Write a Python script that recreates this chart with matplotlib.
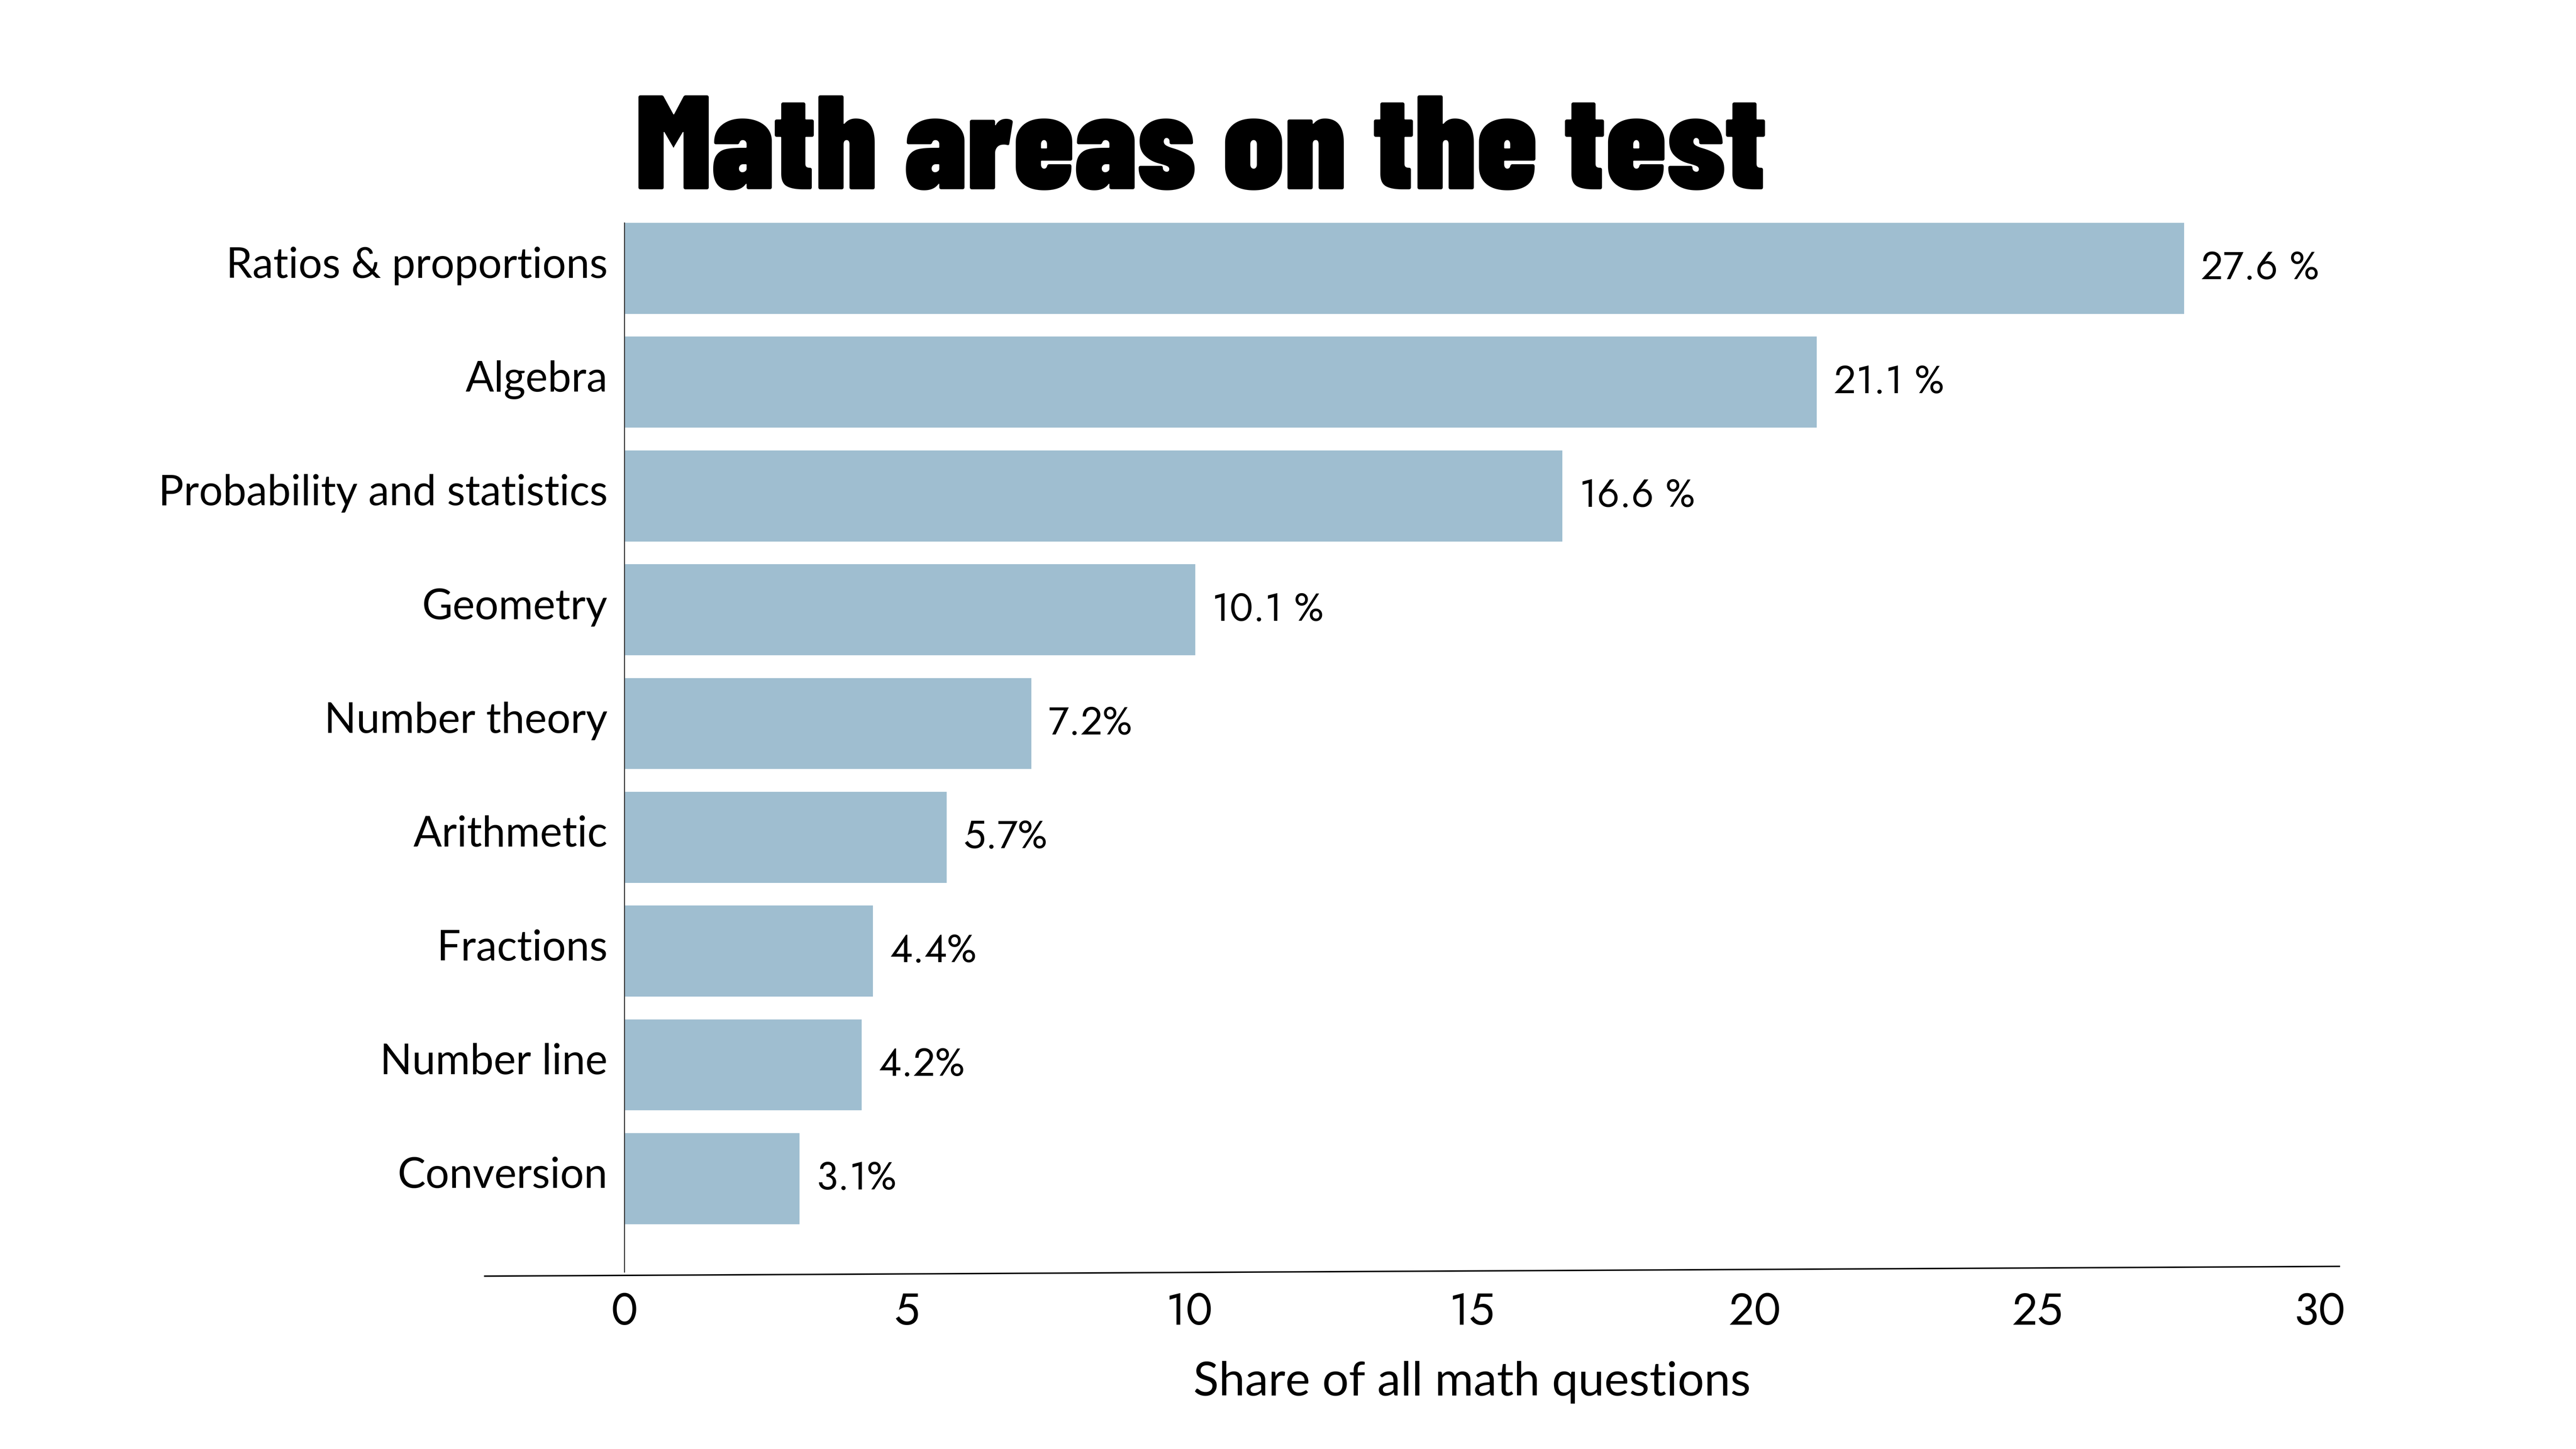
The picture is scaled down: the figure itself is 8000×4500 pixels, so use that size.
import matplotlib.pyplot as plt
from matplotlib.lines import Line2D
from matplotlib.transforms import ScaledTranslation

categories = ['Ratios & proportions', 'Algebra', 'Probability and statistics',
              'Geometry', 'Number theory', 'Arithmetic', 'Fractions',
              'Number line', 'Conversion']
shares = [27.6, 21.1, 16.6, 10.1, 7.2, 5.7, 4.4, 4.2, 3.1]
value_labels = ['27.6 %', '21.1 %', '16.6 %', '10.1 %', '7.2%', '5.7%',
                '4.4%', '4.2%', '3.1%']
xticks = [0, 5, 10, 15, 20, 25, 30]

bar_color = '#9fbed0'
label_font = ['Lato', 'DejaVu Sans']
number_font = ['Jost', 'Lato', 'DejaVu Sans']
title_font = ['Barlow Condensed', 'Roboto Condensed', 'Anton', 'DejaVu Sans']

fig = plt.figure(figsize=(16, 9), dpi=500)
ax = fig.add_axes([0.2424, 0.1222, 0.6581, 0.7240])

ypos = list(range(len(categories)))
ax.barh(ypos, shares, height=0.8, color=bar_color, zorder=2)

for y, v, txt in zip(ypos, shares, value_labels):
    ax.text(v + 0.3, y, txt, va='center', ha='left', fontsize=17.5,
            family=number_font, fontweight='light', color='black')

ax.set_xlim(0, 30)
ax.set_ylim(8.82, -0.4)
ax.set_yticks(ypos)
ax.set_yticklabels(categories, family=label_font, fontsize=18.8)
ax.set_xticks(xticks)
ax.set_xticklabels([str(t) for t in xticks], family=number_font,
                   fontweight='light', fontsize=20)
ax.tick_params(axis='both', length=0, colors='black')
ax.tick_params(axis='y', pad=7.5)
ax.tick_params(axis='x', pad=8)

# category names sit a touch above the bar centres in the original
lift = ScaledTranslation(0, 2.8 / 72, fig.dpi_scale_trans)
for lab in ax.get_yticklabels():
    lab.set_transform(lab.get_transform() + lift)

for side in ['top', 'right', 'bottom']:
    ax.spines[side].set_visible(False)
ax.spines['left'].set_linewidth(0.45)
ax.spines['left'].set_color('#333333')

# slightly tilted baseline like the original
base = Line2D([-0.0824, 1.0116], [-0.004, 0.0053], transform=ax.transAxes,
              color='black', linewidth=0.65, clip_on=False)
ax.add_line(base)

ax.set_xlabel('Share of all math questions', family=label_font, fontsize=21,
              labelpad=12)

fig.text(0.2468, 0.8693, 'Math areas on the test', ha='left', va='baseline',
         family=title_font, fontweight='black', fontsize=60)

fig.savefig('out.png', dpi=500, facecolor='white')
